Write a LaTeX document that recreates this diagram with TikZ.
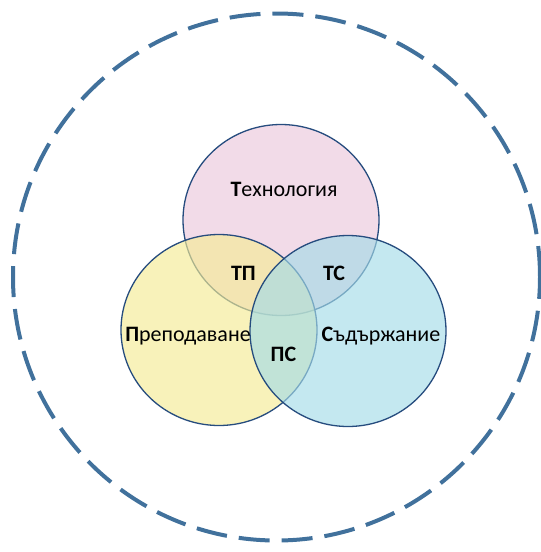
\documentclass[tikz,border=0pt]{standalone}
\usepackage{fontspec}
\setmainfont{Carlito}
\usetikzlibrary{shapes.geometric}
\definecolor{cpink}{HTML}{EBC7DC}
\definecolor{cyellow}{HTML}{F4EB95}
\definecolor{cblue}{HTML}{A4DBE8}
\definecolor{cline}{HTML}{264C7E}
\definecolor{cdash}{HTML}{41719C}
\tikzset{
  every picture/.style={x=1pt, y=-1pt},
  set/.style={ellipse, draw=cline, fill=#1, fill opacity=0.65, draw opacity=1, line width=1.3pt, minimum width=196pt, minimum height=191pt, inner sep=0pt},
  lbl/.style={anchor=base, font=\fontsize{22}{26}\selectfont, inner sep=0pt},
  pair/.style={lbl, font=\fontsize{22}{26}\selectfont\bfseries},
}

\begin{document}
\begin{tikzpicture}
  \useasboundingbox (0,0) rectangle (541,552);
  \node[circle, draw=cdash, line width=4pt, dash pattern=on 31pt off 12pt, minimum size=527pt, inner sep=0pt] (frame) at (276.5,277) {};
  % the three sets, drawn in this order so the fills cover the earlier borders
  \node[set=cpink] (tech) at (281,220) {};
  \node[set=cyellow] (ped) at (219,330) {};
  \node[set=cblue] (cont) at (348,331) {};
  \node[lbl] (techl) at (284,196.7) {\textbf{Т}ехнология};
  \node[lbl] (pedl) at (188,341.7) {\textbf{П}реподаване};
  \node[lbl] (contl) at (381,341.7) {\textbf{С}ъдържание};
  \node[pair] (tp) at (243.4,280) {ТП};
  \node[pair] (tc) at (334,280) {ТС};
  \node[pair] (pc) at (283.4,361.7) {ПС};
\end{tikzpicture}
\end{document}
